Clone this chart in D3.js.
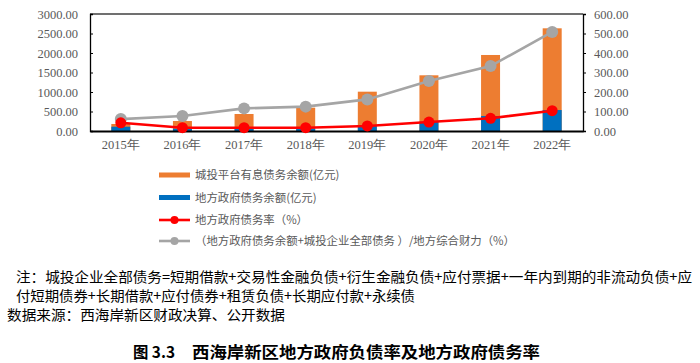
<!DOCTYPE html>
<html>
<head>
<meta charset="utf-8">
<script src="https://cdn.jsdelivr.net/npm/d3@7"></script>
<style>
  body { margin: 0; background: #fff; }
  svg { display: block; }
</style>
</head>
<body>
<svg width="700" height="363"></svg>
<script>
// data
const years = ["2015年", "2016年", "2017年", "2018年", "2019年", "2020年", "2021年", "2022年"];
const cityDebt = [180, 256, 436, 598, 1008, 1428, 1949, 2633];   // 城投平台有息债务余额 (亿元)
const govDebt = [110, 60, 62, 66, 128, 238, 385, 538];           // 地方政府债务余额 (亿元)
const govRate = [42, 17, 17, 17, 26, 46, 65, 104];               // 地方政府债务率 (%)
const totalRate = [61, 77, 116, 125, 162, 256, 333, 508];        // 综合 (%)
const leftTicks = [0, 500, 1000, 1500, 2000, 2500, 3000];
const rightTicks = [0, 100, 200, 300, 400, 500, 600];

const legendNames = [
    "城投平台有息债务余额(亿元)",
    "地方政府债务余额(亿元)",
    "地方政府债务率（%）",
    "（地方政府债务余额+城投企业全部债务 ）/地方综合财力（%）"
];
const noteLines = [
    "注：城投企业全部债务=短期借款+交易性金融负债+衍生金融负债+应付票据+一年内到期的非流动负债+应",
    "付短期债券+长期借款+应付债券+租赁负债+长期应付款+永续债",
    "数据来源：西海岸新区财政决算、公开数据"
];
const titleNo = "图 3.3";
const titleText = "西海岸新区地方政府负债率及地方政府债务率";

const C_ORANGE = "#ED7D31", C_BLUE = "#0070C0", C_RED = "#FF0000", C_GRAY = "#A5A5A5";
const serif = "'Liberation Serif', 'Times New Roman', serif";
const cjk = "'Noto Sans CJK SC', sans-serif";

const svg = d3.select("svg");
const plot = { left: 90, right: 583, top: 14, bottom: 131 };

const x = d3.scaleBand().domain(years).range([plot.left, plot.right]);
const yL = d3.scaleLinear().domain([0, 3000]).range([plot.bottom, plot.top]);
const yR = d3.scaleLinear().domain([0, 600]).range([plot.bottom, plot.top]);
const barW = 19;
const cx = d => x(d) + x.bandwidth() / 2;

// bars (orange behind, blue in front, full overlap)
svg.append("g").selectAll("rect")
    .data(years)
    .enter().append("rect")
    .attr("x", d => cx(d) - barW / 2)
    .attr("width", barW)
    .attr("y", (d, i) => yL(cityDebt[i]))
    .attr("height", (d, i) => plot.bottom - yL(cityDebt[i]))
    .attr("fill", C_ORANGE);

svg.append("g").selectAll("rect")
    .data(years)
    .enter().append("rect")
    .attr("x", d => cx(d) - barW / 2)
    .attr("width", barW)
    .attr("y", (d, i) => yL(govDebt[i]))
    .attr("height", (d, i) => plot.bottom - yL(govDebt[i]))
    .attr("fill", C_BLUE);

// frame top
svg.append("line")
    .attr("x1", plot.left).attr("x2", plot.right)
    .attr("y1", plot.top).attr("y2", plot.top)
    .attr("stroke", "#404040").attr("stroke-width", 1.5);

// left axis
const axL = svg.append("g")
    .attr("transform", `translate(${plot.left},0)`)
    .call(d3.axisLeft(yL).tickValues(leftTicks).tickFormat(d3.format(".2f")).tickSize(-3).tickPadding(12));
// right axis
const axR = svg.append("g")
    .attr("transform", `translate(${plot.right},0)`)
    .call(d3.axisRight(yR).tickValues(rightTicks).tickFormat(d3.format(".2f")).tickSize(3).tickPadding(8));
[axL, axR].forEach(ax => {
    ax.select(".domain").attr("stroke", "#000").attr("stroke-width", 1.3);
    ax.selectAll(".tick line").attr("stroke", "#000");
    ax.selectAll(".tick text")
        .attr("fill", "#595959")
        .style("font-family", serif)
        .style("font-size", "12.5px");
});

// bottom axis
const axB = svg.append("g")
    .attr("transform", `translate(0,${plot.bottom})`)
    .call(d3.axisBottom(x).tickSize(0).tickPadding(9));
axB.select(".domain").attr("stroke", "#000").attr("stroke-width", 2);
axB.selectAll(".tick text")
    .attr("fill", "#595959")
    .style("font-family", serif)
    .style("font-size", "12.5px");

// lines
function drawLine(vals, color, r) {
    const line = d3.line().x((d, i) => cx(years[i])).y(d => yR(d));
    svg.append("path")
        .datum(vals)
        .attr("d", line)
        .attr("fill", "none")
        .attr("stroke", color)
        .attr("stroke-width", 2.6);
    svg.append("g").selectAll("circle")
        .data(vals)
        .enter().append("circle")
        .attr("cx", (d, i) => cx(years[i]))
        .attr("cy", d => yR(d))
        .attr("r", r)
        .attr("fill", color);
}
drawLine(totalRate, C_GRAY, 6);
drawLine(govRate, C_RED, 5.5);

// legend
const legend = svg.append("g");
const legY = [175, 197.5, 220, 241];
legendNames.forEach((name, i) => {
    const g = legend.append("g").attr("transform", `translate(159,${legY[i]})`);
    if (i < 2) {
        g.append("rect").attr("x", 0).attr("y", -2.5).attr("width", 31).attr("height", 5)
            .attr("fill", i === 0 ? C_ORANGE : C_BLUE);
    } else {
        const col = i === 2 ? C_RED : C_GRAY;
        g.append("line").attr("x1", 0).attr("x2", 31).attr("y1", 0).attr("y2", 0)
            .attr("stroke", col).attr("stroke-width", 2.6);
        g.append("circle").attr("cx", 15.5).attr("cy", 0).attr("r", 4).attr("fill", col);
    }
    g.append("text")
        .attr("x", 36).attr("y", 0).attr("dy", "0.35em")
        .attr("fill", "#595959")
        .style("font-family", cjk)
        .style("font-size", "11.4px")
        .text(name);
});

// notes
const noteX = [16, 16, 7];
const noteY = [277, 296, 315];
const noteLen = [676, 399, 278];
noteLines.forEach((t, i) => {
    svg.append("text")
        .attr("x", noteX[i]).attr("y", noteY[i]).attr("dy", "0.35em")
        .attr("fill", "#000")
        .attr("textLength", noteLen[i])
        .attr("lengthAdjust", "spacingAndGlyphs")
        .style("font-family", cjk)
        .style("font-size", "14px")
        .text(t);
});

// caption
svg.append("text")
    .attr("x", 133).attr("y", 352).attr("dy", "0.35em")
    .attr("fill", "#000")
    .attr("textLength", 42).attr("lengthAdjust", "spacingAndGlyphs")
    .style("font-family", cjk)
    .style("font-weight", "bold")
    .style("font-size", "16px")
    .text(titleNo);
svg.append("text")
    .attr("x", 192).attr("y", 352).attr("dy", "0.35em")
    .attr("fill", "#000")
    .attr("textLength", 348).attr("lengthAdjust", "spacingAndGlyphs")
    .style("font-family", cjk)
    .style("font-weight", "bold")
    .style("font-size", "16px")
    .text(titleText);
</script>
</body>
</html>
